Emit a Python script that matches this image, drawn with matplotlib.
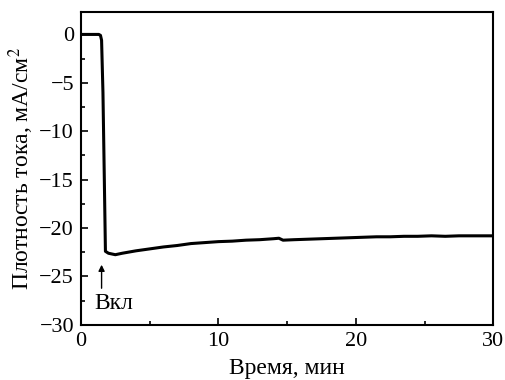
import matplotlib
matplotlib.use("Agg")
import matplotlib.pyplot as plt
from matplotlib.ticker import MultipleLocator

# time, min
t = [0.0, 0.5, 1.0, 1.3, 1.42, 1.5, 1.6, 1.7, 1.78, 2.0, 2.5, 3.0, 4.0, 5.0, 6.0,
     7.0, 8.0, 9.0, 10.0, 11.0, 12.0, 13.0, 14.0, 14.4, 14.7, 15.5, 16.5, 17.5,
     18.5, 19.5, 20.5, 21.5, 22.5, 23.5, 24.5, 25.5, 26.5, 27.5, 28.5, 29.5, 30.0]
# current density, mA/cm2
j = [0.0, 0.0, 0.0, 0.0, -0.1, -0.6, -6.0, -15.0, -22.4, -22.6, -22.75, -22.6,
     -22.35, -22.15, -21.95, -21.8, -21.6, -21.5, -21.4, -21.35, -21.25, -21.2,
     -21.1, -21.05, -21.25, -21.2, -21.15, -21.1, -21.05, -21.0, -20.95, -20.9,
     -20.9, -20.85, -20.85, -20.8, -20.85, -20.8, -20.8, -20.8, -20.8]

plt.rcParams['font.family'] = ['Liberation Serif', 'DejaVu Serif']
plt.rcParams['mathtext.fontset'] = 'stix'
fs = 17

fig = plt.figure(figsize=(5.06, 3.8), dpi=100)
ax = fig.add_axes([0.160, 0.145, 0.815, 0.823])
ax.plot(t, j, color='black', linewidth=2.2)

ax.set_xlim(0, 30)
ax.set_ylim(-30, 2.3)
ax.xaxis.set_major_locator(MultipleLocator(10))
ax.xaxis.set_minor_locator(MultipleLocator(5))
ax.yaxis.set_major_locator(MultipleLocator(5))
ax.yaxis.set_minor_locator(MultipleLocator(2.5))
ax.tick_params(which='both', direction='in', labelsize=16, width=1.2)
ax.tick_params(which='major', length=5, pad=5)
ax.tick_params(which='minor', length=3)
for s in ax.spines.values():
    s.set_linewidth(1.5)

ax.set_xlabel('Время, мин', fontsize=fs, labelpad=5)
ax.set_ylabel('Плотность тока, мА/см$^2$', fontsize=fs, labelpad=2)

ax.annotate('', xy=(1.5, -23.5), xytext=(1.5, -26.5),
            arrowprops=dict(arrowstyle='-|>', color='black', lw=1.0,
                            mutation_scale=9))
ax.text(1.0, -27.8, 'Вкл', fontsize=fs, ha='left', va='center')

fig.savefig('out.png', dpi=100)
